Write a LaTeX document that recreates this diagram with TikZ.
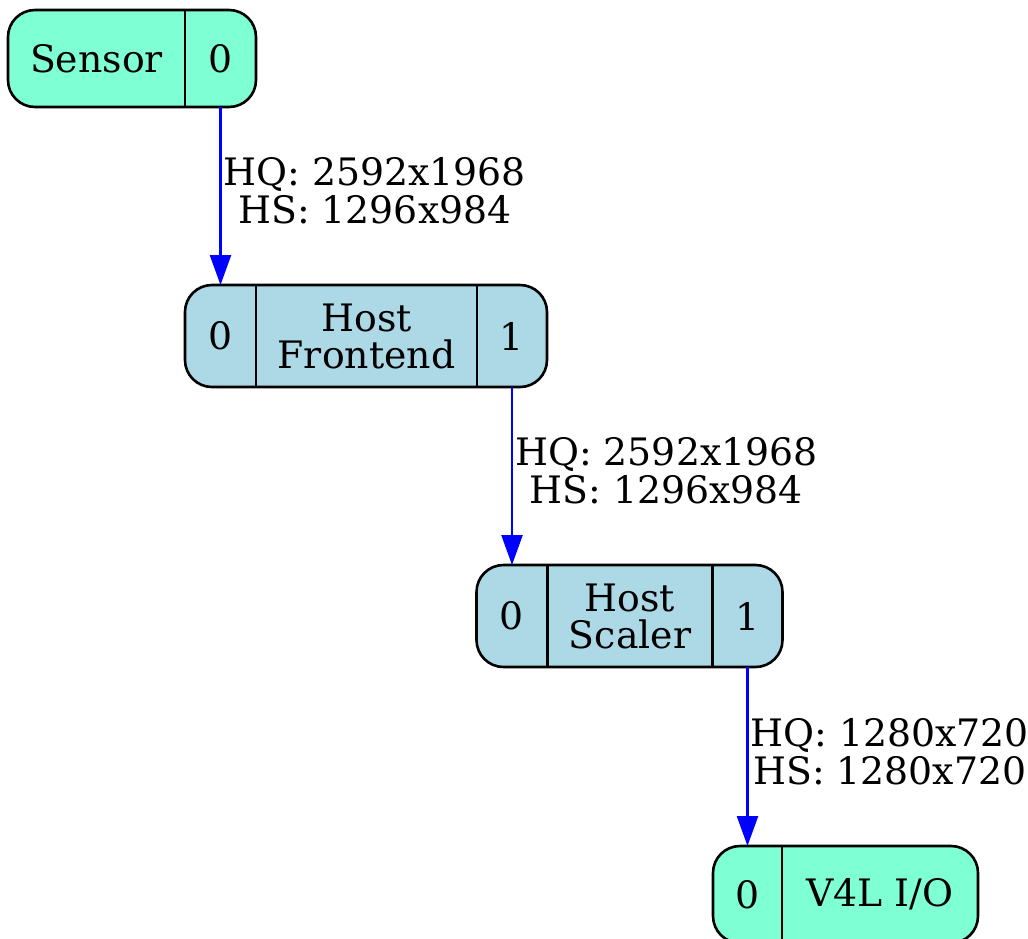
\documentclass[tikz,border=0pt]{standalone}
\usepackage{fontspec}
\setmainfont{DejaVu Serif}
\usetikzlibrary{arrows.meta,positioning}
\definecolor{aqua}{HTML}{7FFFD4}
\definecolor{lblue}{HTML}{ADD8E6}
\tikzset{
  rec/.style={draw, line width=2.6pt, rounded corners=27pt, inner sep=0pt, outer sep=0pt},
  fld/.style={inner sep=0pt, outer sep=0pt, minimum height=#1, align=center, font=\fontsize{37.8}{37}\selectfont},
  div/.style={line width=2.6pt},
  flow/.style={blue, line width=2.4pt, -{Triangle[length=30pt,width=21pt]}},
  lbl/.style={midway, anchor=west, yshift=5pt, inner sep=2pt, align=center, text=black, font=\fontsize{37.8}{38}\selectfont}
}
\begin{document}
\begin{tikzpicture}[x=1pt, y=-1pt]
    \useasboundingbox (0,0) rectangle (1028,938);
    % sensor
    \node[rec, fill=aqua, minimum width=248pt, minimum height=97pt] (sensor) at (132,58.5) {};
    \node[fld=97pt, minimum width=177pt, anchor=west] (sensor-name) at (sensor.west) {Sensor};
    \node[fld=97pt, minimum width=71pt, right=0pt of sensor-name] (sensor-0) {0};
    \draw[div] (sensor-name.north east) -- (sensor-name.south east);
    % host frontend
    \node[rec, fill=lblue, minimum width=362pt, minimum height=102pt] (fe) at (366,336) {};
    \node[fld=102pt, minimum width=71pt, anchor=west] (fe-0) at (fe.west) {0};
    \node[fld=102pt, minimum width=221pt, right=0pt of fe-0] (fe-name) {Host\\Frontend};
    \node[fld=102pt, minimum width=70pt, right=0pt of fe-name] (fe-1) {1};
    \foreach \f in {fe-0, fe-name}
    \draw[div] (\f.north east) -- (\f.south east);
    % host scaler
    \node[rec, fill=lblue, minimum width=306pt, minimum height=102pt] (sc) at (629.5,616) {};
    \node[fld=102pt, minimum width=71pt, anchor=west] (sc-0) at (sc.west) {0};
    \node[fld=102pt, minimum width=165pt, right=0pt of sc-0] (sc-name) {Host\\Scaler};
    \node[fld=102pt, minimum width=70pt, right=0pt of sc-name] (sc-1) {1};
    \foreach \f in {sc-0, sc-name}
    \draw[div] (\f.north east) -- (\f.south east);
    % v4l output
    \node[rec, fill=aqua, minimum width=265pt, minimum height=97pt] (v4l) at (845.5,894.5) {};
    \node[fld=97pt, minimum width=69pt, anchor=west] (v4l-0) at (v4l.west) {0};
    \node[fld=97pt, minimum width=196pt, right=0pt of v4l-0] (v4l-name) {V4L I/O};
    \draw[div] (v4l-0.north east) -- (v4l-0.south east);
    % links
    \draw[flow] (sensor-0.south) -- node[lbl] {HQ: 2592x1968\\HS: 1296x984} (fe-0.north);
    \draw[flow] (fe-1.south) -- node[lbl] {HQ: 2592x1968\\HS: 1296x984} (sc-0.north);
    \draw[flow] (sc-1.south) -- node[lbl] {HQ: 1280x720\\HS: 1280x720} (v4l-0.north);
\end{tikzpicture}
\end{document}
